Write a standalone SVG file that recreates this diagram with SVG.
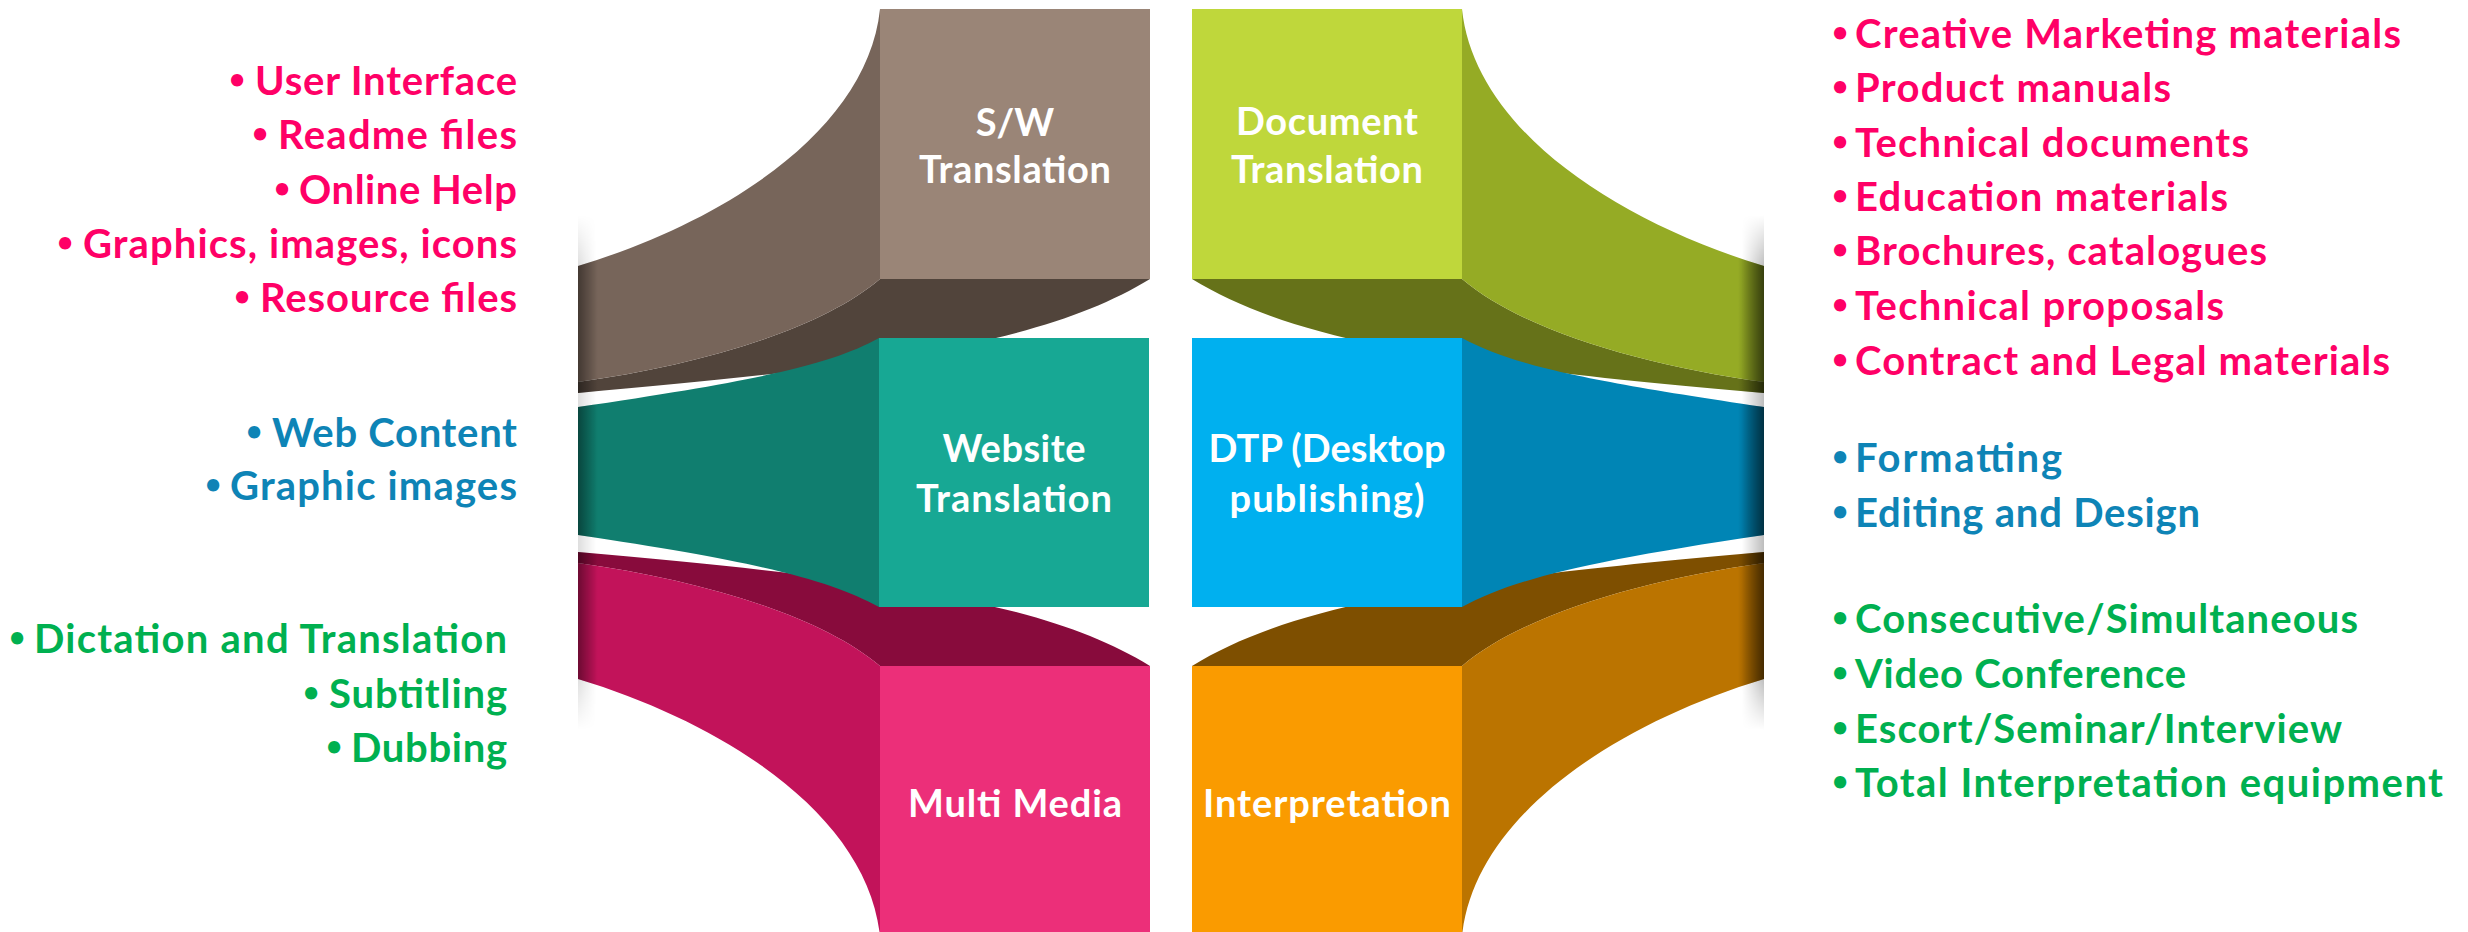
<svg xmlns="http://www.w3.org/2000/svg" width="2468" height="932" viewBox="0 0 2468 932">
  <style>
    .lbl{font-family:Lato,"Open Sans","Liberation Sans",sans-serif;font-weight:700;font-size:38px;fill:#ffffff;text-anchor:middle}
    .item{font-family:Lato,"Open Sans","Liberation Sans",sans-serif;font-weight:700;font-size:40px}
    .end{text-anchor:end}
    .dot{text-anchor:middle;font-size:28px}
    .pink{fill:#FF0066}
    .blue{fill:#0E84B6}
    .green{fill:#00B050}
  </style>
  <defs>
    <!-- soft fold shading at the outer edges of the ribbons -->
    <linearGradient id="softL" gradientUnits="userSpaceOnUse" x1="578" y1="0" x2="596" y2="0">
      <stop offset="0" stop-color="#000" stop-opacity="0.13"/>
      <stop offset="1" stop-color="#000" stop-opacity="0"/>
    </linearGradient>
    <linearGradient id="darkL" gradientUnits="userSpaceOnUse" x1="578" y1="0" x2="598" y2="0">
      <stop offset="0" stop-color="#000" stop-opacity="0.35"/>
      <stop offset="1" stop-color="#000" stop-opacity="0"/>
    </linearGradient>
    <linearGradient id="softR" gradientUnits="userSpaceOnUse" x1="1742" y1="0" x2="1764" y2="0">
      <stop offset="0" stop-color="#000" stop-opacity="0"/>
      <stop offset="1" stop-color="#000" stop-opacity="0.26"/>
    </linearGradient>
    <linearGradient id="darkR" gradientUnits="userSpaceOnUse" x1="1738" y1="0" x2="1764" y2="0">
      <stop offset="0" stop-color="#000" stop-opacity="0"/>
      <stop offset="1" stop-color="#000" stop-opacity="0.5"/>
    </linearGradient>
    <linearGradient id="fadeV" x1="0" y1="0" x2="0" y2="1">
      <stop offset="0" stop-color="#fff" stop-opacity="0"/>
      <stop offset="0.1" stop-color="#fff" stop-opacity="1"/>
      <stop offset="0.9" stop-color="#fff" stop-opacity="1"/>
      <stop offset="1" stop-color="#fff" stop-opacity="0"/>
    </linearGradient>
    <mask id="bandMaskL" maskUnits="userSpaceOnUse" x="570" y="200" width="40" height="540">
      <rect x="570" y="215" width="40" height="515" fill="url(#fadeV)"/>
    </mask>
    <mask id="bandMaskR" maskUnits="userSpaceOnUse" x="1730" y="200" width="40" height="540">
      <rect x="1730" y="215" width="40" height="515" fill="url(#fadeV)"/>
    </mask>
    <clipPath id="clipL">
      <use href="#sw-face"/>
      <use href="#sw-side"/>
      <use href="#web-side"/>
      <use href="#mm-face"/>
      <use href="#mm-side"/>
    </clipPath>
    <clipPath id="clipR">
      <use href="#doc-face"/>
      <use href="#doc-side"/>
      <use href="#dtp-side"/>
      <use href="#int-face"/>
      <use href="#int-side"/>
    </clipPath>
  </defs>

  <rect width="2468" height="932" fill="#ffffff"/>

  <!-- left column -->
  <g id="node-sw">
    <path id="sw-face" fill="#51443B" d="M880,279 L1150,279 C1050,340 900,365 578,393 L578,382 C700,365 820,330 880,279 Z"/>
    <path id="sw-side" fill="#77655A" d="M880,9 C868,125 735,218 578,266 L578,382 C700,365 820,330 880,279 Z"/>
    <rect x="880" y="9" width="270" height="270" fill="#9A8577"/>
    <text class="lbl" x="1015" y="136">S/W</text>
    <text class="lbl" x="1015" y="183" textLength="192">Translation</text>
  </g>

  <g id="node-multimedia">
    <path id="mm-face" fill="#880B3C" d="M880,666 L1150,666 C1050,605 900,580 578,552 L578,563 C700,580 820,615 880,666 Z"/>
    <path id="mm-side" fill="#C2135A" d="M880,936 C868,820 735,727 578,679 L578,563 C700,580 820,615 880,666 Z"/>
    <rect x="880" y="666" width="270" height="270" fill="#EC2F79"/>
    <text class="lbl" x="1015" y="817" textLength="214">Multi Media</text>
  </g>

  <g id="node-website">
    <path id="web-side" fill="#107E6F" d="M879,338 C830,365 760,380 578,407 L578,535 C760,562 830,580 879,607 Z"/>
    <rect x="879" y="338" width="270" height="269" fill="#17A894"/>
    <text class="lbl" x="1014" y="462" textLength="143">Website</text>
    <text class="lbl" x="1014" y="512" textLength="196">Translation</text>
  </g>

  <!-- right column -->
  <g id="node-document">
    <path id="doc-face" fill="#667219" d="M1462,279 L1192,279 C1292,340 1442,365 1764,393 L1764,382 C1642,365 1522,330 1462,279 Z"/>
    <path id="doc-side" fill="#95AB25" d="M1462,9 C1474,125 1607,218 1764,266 L1764,382 C1642,365 1522,330 1462,279 Z"/>
    <rect x="1192" y="9" width="270" height="270" fill="#BFD73B"/>
    <text class="lbl" x="1327" y="135" textLength="182">Document</text>
    <text class="lbl" x="1327" y="183" textLength="192">Translation</text>
  </g>

  <g id="node-interpretation">
    <path id="int-face" fill="#7E4F00" d="M1462,666 L1192,666 C1292,605 1442,580 1764,552 L1764,563 C1642,580 1522,615 1462,666 Z"/>
    <path id="int-side" fill="#BB7400" d="M1462,936 C1474,820 1607,727 1764,679 L1764,563 C1642,580 1522,615 1462,666 Z"/>
    <rect x="1192" y="666" width="270" height="270" fill="#FA9B00"/>
    <text class="lbl" x="1327" y="817" textLength="248">Interpretation</text>
  </g>

  <g id="node-dtp">
    <path id="dtp-side" fill="#0085B5" d="M1462,338 C1512,365 1582,380 1764,407 L1764,535 C1582,562 1512,580 1462,607 Z"/>
    <rect x="1192" y="338" width="270" height="269" fill="#00B0EF"/>
    <text class="lbl" x="1327" y="462" textLength="237">DTP (Desktop</text>
    <text class="lbl" x="1327" y="512" textLength="195">publishing)</text>
  </g>

  <!-- edge shading where the ribbons turn away -->
  <g id="edge-shading">
    <rect x="578" y="215" width="20" height="515" fill="url(#softL)" mask="url(#bandMaskL)"/>
    <rect x="578" y="250" width="22" height="440" fill="url(#darkL)" clip-path="url(#clipL)"/>
    <rect x="1742" y="215" width="22" height="515" fill="url(#softR)" mask="url(#bandMaskR)"/>
    <rect x="1738" y="250" width="26" height="440" fill="url(#darkR)" clip-path="url(#clipR)"/>
  </g>

  <!-- item lists -->
  <g id="connectors"></g>

  <g id="list-sw">
    <text class="item pink dot" x="237" y="89">•</text>
    <text class="item pink end" x="517" y="95" textLength="262">User Interface</text>
    <text class="item pink dot" x="260" y="143">•</text>
    <text class="item pink end" x="517" y="149" textLength="239">Readme files</text>
    <text class="item pink dot" x="282" y="198">•</text>
    <text class="item pink end" x="517" y="204" textLength="218">Online Help</text>
    <text class="item pink dot" x="65" y="252">•</text>
    <text class="item pink end" x="517" y="258" textLength="434">Graphics, images, icons</text>
    <text class="item pink dot" x="242" y="306">•</text>
    <text class="item pink end" x="517" y="312" textLength="257">Resource files</text>
  </g>

  <g id="list-website">
    <text class="item blue dot" x="254" y="441">•</text>
    <text class="item blue end" x="517" y="447" textLength="245">Web Content</text>
    <text class="item blue dot" x="213" y="494">•</text>
    <text class="item blue end" x="517" y="500" textLength="287">Graphic images</text>
  </g>

  <g id="list-multimedia">
    <text class="item green dot" x="17" y="647">•</text>
    <text class="item green end" x="507" y="653" textLength="473">Dictation and Translation</text>
    <text class="item green dot" x="311" y="702">•</text>
    <text class="item green end" x="507" y="708" textLength="178">Subtitling</text>
    <text class="item green dot" x="334" y="756">•</text>
    <text class="item green end" x="507" y="762" textLength="156">Dubbing</text>
  </g>

  <g id="list-document">
    <text class="item pink dot" x="1840" y="42">•</text>
    <text class="item pink" x="1855" y="48" textLength="546">Creative Marketing materials</text>
    <text class="item pink dot" x="1840" y="96">•</text>
    <text class="item pink" x="1855" y="102" textLength="316">Product manuals</text>
    <text class="item pink dot" x="1840" y="151">•</text>
    <text class="item pink" x="1855" y="157" textLength="394">Technical documents</text>
    <text class="item pink dot" x="1840" y="205">•</text>
    <text class="item pink" x="1855" y="211" textLength="373">Education materials</text>
    <text class="item pink dot" x="1840" y="259">•</text>
    <text class="item pink" x="1855" y="265" textLength="412">Brochures, catalogues</text>
    <text class="item pink dot" x="1840" y="314">•</text>
    <text class="item pink" x="1855" y="320" textLength="369">Technical proposals</text>
    <text class="item pink dot" x="1840" y="369">•</text>
    <text class="item pink" x="1855" y="375" textLength="535">Contract and Legal materials</text>
  </g>

  <g id="list-dtp">
    <text class="item blue dot" x="1840" y="466">•</text>
    <text class="item blue" x="1855" y="472" textLength="207">Formatting</text>
    <text class="item blue dot" x="1840" y="521">•</text>
    <text class="item blue" x="1855" y="527" textLength="345">Editing and Design</text>
  </g>

  <g id="list-interpretation">
    <text class="item green dot" x="1840" y="627">•</text>
    <text class="item green" x="1855" y="633" textLength="503">Consecutive/Simultaneous</text>
    <text class="item green dot" x="1840" y="682">•</text>
    <text class="item green" x="1855" y="688" textLength="331">Video Conference</text>
    <text class="item green dot" x="1840" y="737">•</text>
    <text class="item green" x="1855" y="743" textLength="487">Escort/Seminar/Interview</text>
    <text class="item green dot" x="1840" y="791">•</text>
    <text class="item green" x="1855" y="797" textLength="588">Total Interpretation equipment</text>
  </g>
</svg>
